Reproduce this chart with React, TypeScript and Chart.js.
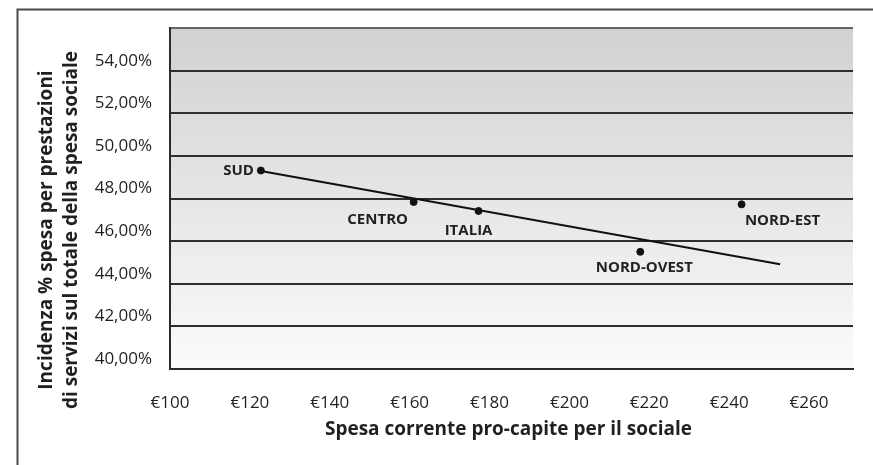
import React, { useEffect, useRef } from "react";
import { Chart, registerables } from "chart.js";

Chart.register(...registerables);

// ---- data ----
const regions = ["SUD", "CENTRO", "ITALIA", "NORD-OVEST", "NORD-EST"];
const spesaProCapite = [122.75, 161, 177.25, 217.75, 243.1];
const incidenza = [49.32, 47.84, 47.42, 45.5, 47.73];
const trendX = [122.75, 252.75];
const trendY = [49.3, 44.92];
const xTickValues = [100, 120, 140, 160, 180, 200, 220, 240, 260];
const yTickValues = [40, 42, 44, 46, 48, 50, 52, 54, 56];
const xTitle = "Spesa corrente pro-capite per il sociale";
const yTitleLines = ["Incidenza % spesa per prestazioni", "di servizi sul totale della spesa sociale"];

// label placement (style, not data)
const labelPlacement = [
  { dx: -7, dy: 0, align: "right" },
  { dx: -36, dy: 18, align: "center" },
  { dx: -10, dy: 20, align: "center" },
  { dx: 4, dy: 16, align: "center" },
  { dx: 41, dy: 16, align: "center" },
];

const FONT = "'Open Sans', 'Noto Sans', sans-serif";

const fmtPct = (v: number) => v.toFixed(2).replace(".", ",") + "%";

const decorPlugin = {
  id: "decor",
  beforeDraw(chart: any) {
    const { ctx, chartArea, width, height } = chart;
    ctx.save();
    ctx.fillStyle = "#ffffff";
    ctx.fillRect(0, 0, width, height);
    // outer frame (top + left)
    ctx.strokeStyle = "#4a4a4a";
    ctx.lineWidth = 2;
    ctx.beginPath();
    ctx.moveTo(width, 9.5);
    ctx.lineTo(17.5, 9.5);
    ctx.lineTo(17.5, height);
    ctx.stroke();
    // plot background gradient
    const g = ctx.createLinearGradient(0, chartArea.top, 0, chartArea.bottom);
    g.addColorStop(0, "#d0d1d3");
    g.addColorStop(1, "#fbfbfb");
    ctx.fillStyle = g;
    ctx.fillRect(chartArea.left, chartArea.top, chartArea.right - chartArea.left, chartArea.bottom - chartArea.top);
    ctx.restore();
  },
  afterDraw(chart: any) {
    const { ctx, chartArea } = chart;
    const meta = chart.getDatasetMeta(1);
    ctx.save();
    // point labels
    ctx.font = `bold 15px ${FONT}`;
    ctx.fillStyle = "#231f20";
    ctx.textBaseline = "middle";
    meta.data.forEach((pt: any, i: number) => {
      const p = labelPlacement[i];
      ctx.textAlign = p.align;
      ctx.fillText(regions[i], pt.x + p.dx, pt.y + p.dy);
    });
    // x title
    ctx.font = `bold 19px ${FONT}`;
    ctx.textAlign = "center";
    ctx.textBaseline = "middle";
    ctx.fillText(xTitle, (chartArea.left + chartArea.right) / 2 - 3, 430);
    // y title
    ctx.translate(0, 230);
    ctx.rotate(-Math.PI / 2);
    ctx.fillText(yTitleLines[0], 0, 47);
    ctx.fillText(yTitleLines[1], 0, 72);
    ctx.restore();
  },
};

export default function App() {
  const ref = useRef<HTMLCanvasElement | null>(null);
  useEffect(() => {
    if (!ref.current) return;
    const chart = new Chart(ref.current, {
      type: "scatter",
      data: {
        datasets: [
          {
            type: "line",
            label: "trend",
            data: trendX.map((x, i) => ({ x, y: trendY[i] })),
            borderColor: "#111111",
            borderWidth: 2,
            pointRadius: 0,
            fill: false,
            order: 2,
          } as any,
          {
            label: "regioni",
            data: spesaProCapite.map((x, i) => ({ x, y: incidenza[i] })),
            backgroundColor: "#111111",
            borderColor: "#111111",
            pointRadius: 3.5,
            order: 1,
          },
        ],
      },
      options: {
        animation: false,
        responsive: true,
        maintainAspectRatio: false,
        layout: { padding: { left: 0, top: 28, right: 20, bottom: 0 } },
        plugins: { legend: { display: false }, tooltip: { enabled: false } },
        scales: {
          x: {
            type: "linear",
            min: 100,
            max: 271,
            afterBuildTicks: (s: any) => {
              s.ticks = xTickValues.map((v) => ({ value: v }));
            },
            afterFit: (s: any) => {
              s.height = 96;
            },
            grid: { display: false, drawTicks: false },
            border: { display: true, color: "#2b2b2b", width: 2 },
            ticks: {
              padding: 24,
              color: "#231f20",
              font: { family: FONT, size: 17 },
              callback: (v: any) => "€" + v,
            },
          },
          y: {
            type: "linear",
            min: 40,
            max: 56,
            afterBuildTicks: (s: any) => {
              s.ticks = yTickValues.map((v) => ({ value: v }));
            },
            afterFit: (s: any) => {
              s.width = 170;
            },
            grid: {
              drawTicks: false,
              lineWidth: 2,
              color: (c: any) => (c.tick && c.tick.value === 56 ? "#666666" : "#2e2e2e"),
            },
            border: { display: true, color: "#2b2b2b", width: 2 },
            ticks: {
              padding: 18,
              labelOffset: -10,
              color: "#231f20",
              font: { family: FONT, size: 17 },
              callback: (v: any) => (v === 56 ? "" : fmtPct(v)),
            },
          },
        },
      },
      plugins: [decorPlugin],
    });
    return () => chart.destroy();
  }, []);
  return (
    <div style={{ position: "fixed", left: 0, top: 0, width: 873, height: 465 }}>
      <canvas ref={ref} />
    </div>
  );
}
